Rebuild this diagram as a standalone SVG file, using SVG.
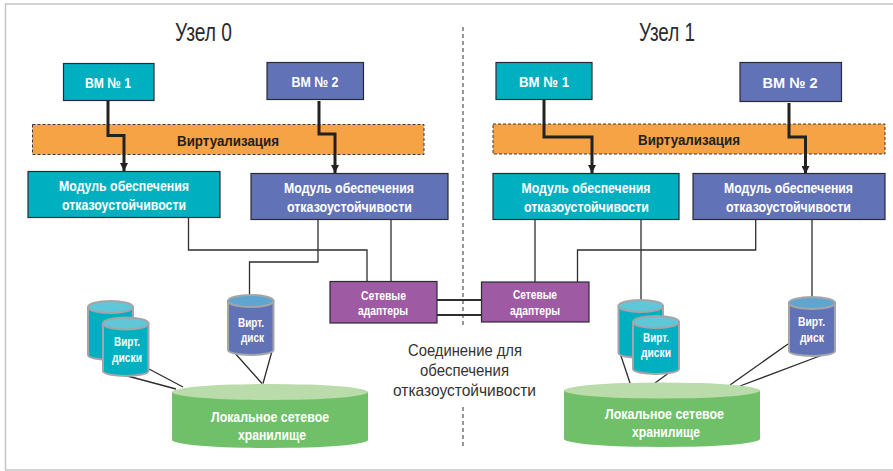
<svg xmlns="http://www.w3.org/2000/svg" width="893" height="471" viewBox="0 0 893 471">
<style>
text{font-family:"Liberation Sans",Arial,sans-serif}
.w{fill:#fff;font-weight:700;text-anchor:middle}
.b{stroke:#2a2a35;stroke-width:1.2}
.t{fill:#00b0c0}.u{fill:#6272b6}.p{fill:#9e5aa2}
.o{fill:#f6a345;stroke:#3a3a3a;stroke-width:1;stroke-dasharray:3 2}
.h{fill:#2b2b2b;font-size:25px;text-anchor:middle}
.c{fill:#333;font-size:17px;text-anchor:middle}
.k{fill:#222;font-weight:700;font-size:15.500px;text-anchor:middle}
.m{font-size:15.500px}.s{font-size:13px}.v{font-size:13.500px}.n{font-size:15px}
.thin{fill:none;stroke:#2e2e2e;stroke-width:1.3}
.thick{fill:none;stroke:#222;stroke-width:3}
.cy{stroke:#a3a5a8;stroke-width:2}
.g{fill:#70c069}.gt{fill:#b9dcaa}
</style>
<defs>
<marker id="a" markerUnits="userSpaceOnUse" markerWidth="9" markerHeight="8" refX="8" refY="4" orient="auto"><path d="M0 0L8 4L0 8Z" fill="#222"/></marker>
</defs>
<rect width="893" height="471" fill="#fff"/>
<path d="M893 4H5.500V470H893" fill="none" stroke="#c4c6c8" stroke-width="1.500"/>
<path d="M463 27V325M463 407V449" fill="none" stroke="#333" stroke-width="1" stroke-dasharray="4 3"/>
<text class="h" x="203.500" y="41" textLength="57" lengthAdjust="spacingAndGlyphs">Узел 0</text>
<text class="h" x="667" y="41" textLength="56" lengthAdjust="spacingAndGlyphs">Узел 1</text>
<g id="virt0"><rect class="o" x="32.500" y="124.500" width="391.500" height="30"/><text class="k" x="228" y="146" textLength="102" lengthAdjust="spacingAndGlyphs">Виртуализация</text></g>
<g id="virt1"><rect class="o" x="493" y="124" width="392" height="30"/><text class="k" x="689" y="145" textLength="102" lengthAdjust="spacingAndGlyphs">Виртуализация</text></g>
<g id="connectors">
<path class="thick" d="M108 101V135.500H124V171" marker-end="url(#a)"/>
<path class="thick" d="M319 101V134H335V173" marker-end="url(#a)"/>
<path class="thick" d="M544 100V137H592V173" marker-end="url(#a)"/>
<path class="thick" d="M789 103V137H805.500V174" marker-end="url(#a)"/>
<path class="thin" d="M188.500 218V250H367V281"/>
<path class="thin" d="M318 220V262H249.500V296"/>
<path class="thin" d="M391 220V281"/>
<path class="thin" d="M535 220V282"/>
<path class="thin" d="M577.500 282V250H755.700V220"/>
<path class="thin" d="M641 220V300"/>
<path class="thin" d="M812 220V297"/>
<path class="thin" style="stroke-width:1.800" d="M437 300H481M437 315H481"/>
<path class="thin" d="M149 369L183 387M120 374L176 389M233 351L262 383.500M272 351L263 383.500M620 353L630 383M670 372L655 383M788 344L730 385M825 354L740 386"/>
</g>
<g id="vm0-1"><rect class="t b" x="63.500" y="63.500" width="90.500" height="37"/><text class="w n" x="108" y="88" textLength="46" lengthAdjust="spacingAndGlyphs">ВМ № 1</text></g>
<g id="vm0-2"><rect class="u b" x="267" y="62.500" width="96.500" height="37"/><text class="w n" x="315" y="87" textLength="47" lengthAdjust="spacingAndGlyphs">ВМ № 2</text></g>
<g id="vm1-1"><rect class="t b" x="496" y="62.500" width="96" height="37"/><text class="w n" x="544" y="87" textLength="50" lengthAdjust="spacingAndGlyphs">ВМ  № 1</text></g>
<g id="vm1-2"><rect class="u b" x="740" y="62.500" width="101.500" height="39"/><text class="w n" x="790" y="88" textLength="55" lengthAdjust="spacingAndGlyphs">ВМ  № 2</text></g>
<g id="mod0-1"><rect class="t b" x="28" y="171.500" width="192" height="46"/><text class="w m" x="124" y="191" textLength="130" lengthAdjust="spacingAndGlyphs">Модуль обеспечения</text><text class="w m" x="124" y="210" textLength="124" lengthAdjust="spacingAndGlyphs">отказоустойчивости</text></g>
<g id="mod0-2"><rect class="u b" x="251" y="173.500" width="197" height="46"/><text class="w m" x="349" y="193" textLength="130" lengthAdjust="spacingAndGlyphs">Модуль обеспечения</text><text class="w m" x="349.500" y="212" textLength="125" lengthAdjust="spacingAndGlyphs">отказоустойчивости</text></g>
<g id="mod1-1"><rect class="t b" x="493" y="173.500" width="186" height="46"/><text class="w m" x="586" y="193" textLength="129" lengthAdjust="spacingAndGlyphs">Модуль обеспечения</text><text class="w m" x="586.500" y="212" textLength="125" lengthAdjust="spacingAndGlyphs">отказоустойчивости</text></g>
<g id="mod1-2"><rect class="u b" x="693" y="173.500" width="192" height="46"/><text class="w m" x="788.500" y="193" textLength="129" lengthAdjust="spacingAndGlyphs">Модуль обеспечения</text><text class="w m" x="788.500" y="212" textLength="125" lengthAdjust="spacingAndGlyphs">отказоустойчивости</text></g>
<g id="nic0"><rect class="p b" x="330" y="281.500" width="107" height="41.500"/><text class="w s" x="383.500" y="300" textLength="45" lengthAdjust="spacingAndGlyphs">Сетевые</text><text class="w s" x="383" y="315" textLength="50" lengthAdjust="spacingAndGlyphs">адаптеры</text></g>
<g id="nic1"><rect class="p b" x="481.500" y="282" width="107.500" height="40"/><text class="w s" x="535" y="299" textLength="44" lengthAdjust="spacingAndGlyphs">Сетевые</text><text class="w s" x="535" y="315" textLength="50" lengthAdjust="spacingAndGlyphs">адаптеры</text></g>
<g id="disks0">
<path class="t cy" d="M88 307V355A22.500 5 0 0 0 133 355V307Z"/><ellipse cx="110.500" cy="307" rx="22.500" ry="6" fill="#5fc7d8" class="cy"/>
<path class="t cy" d="M103 323.500V371A22.750 5 0 0 0 148.500 371V323.500Z"/><ellipse cx="125.750" cy="323.500" rx="22.750" ry="6" fill="#5fc7d8" class="cy"/>
<text class="w v" x="127" y="346" textLength="26" lengthAdjust="spacingAndGlyphs">Вирт.</text><text class="w v" x="127" y="361.500" textLength="30" lengthAdjust="spacingAndGlyphs">диски</text>
</g>
<g id="disk0">
<path class="u cy" d="M228 301V350A22.750 5 0 0 0 273.500 350V301Z"/><ellipse cx="250.750" cy="301" rx="22.750" ry="6" fill="#5ea6d0" class="cy"/>
<text class="w v" x="251" y="327" textLength="26" lengthAdjust="spacingAndGlyphs">Вирт.</text><text class="w v" x="252.500" y="342" textLength="23" lengthAdjust="spacingAndGlyphs">диск</text>
</g>
<g id="disks1">
<path class="t cy" d="M618.500 306V353A22.250 5 0 0 0 663 353V306Z"/><ellipse cx="640.750" cy="306" rx="22.250" ry="6" fill="#5fc7d8" class="cy"/>
<path class="t cy" d="M633 322V369A23 5 0 0 0 679 369V322Z"/><ellipse cx="656" cy="322" rx="23" ry="6" fill="#5fc7d8" class="cy"/>
<text class="w v" x="656" y="342" textLength="26" lengthAdjust="spacingAndGlyphs">Вирт.</text><text class="w v" x="656" y="357" textLength="30" lengthAdjust="spacingAndGlyphs">диски</text>
</g>
<g id="disk1">
<path class="u cy" d="M789 303V351A23 5 0 0 0 835 351V303Z"/><ellipse cx="812" cy="303" rx="23" ry="6" fill="#5ea6d0" class="cy"/>
<text class="w v" x="811.500" y="326" textLength="27" lengthAdjust="spacingAndGlyphs">Вирт.</text><text class="w v" x="812" y="342" textLength="24" lengthAdjust="spacingAndGlyphs">диск</text>
</g>
<g id="store0">
<path class="g" d="M172 392V440A98 8 0 0 0 368 440V392Z"/><ellipse class="gt" cx="270" cy="392" rx="98" ry="8"/>
<text class="w m" x="270" y="422" textLength="118" lengthAdjust="spacingAndGlyphs">Локальное сетевое</text><text class="w m" x="272" y="440" textLength="68" lengthAdjust="spacingAndGlyphs">хранилище</text>
</g>
<g id="store1">
<path class="g" d="M564 390.500V439A98 8 0 0 0 760 439V390.500Z"/><ellipse class="gt" cx="662" cy="390.500" rx="98" ry="8"/>
<text class="w m" x="664.500" y="419" textLength="119" lengthAdjust="spacingAndGlyphs">Локальное сетевое</text><text class="w m" x="666" y="437" textLength="68" lengthAdjust="spacingAndGlyphs">хранилище</text>
</g>
<g id="caption">
<text class="c" x="465" y="356" textLength="114" lengthAdjust="spacingAndGlyphs">Соединение для</text>
<text class="c" x="464.500" y="376" textLength="89" lengthAdjust="spacingAndGlyphs">обеспечения</text>
<text class="c" x="464.500" y="396" textLength="143" lengthAdjust="spacingAndGlyphs">отказоустойчивости</text>
</g>
</svg>
